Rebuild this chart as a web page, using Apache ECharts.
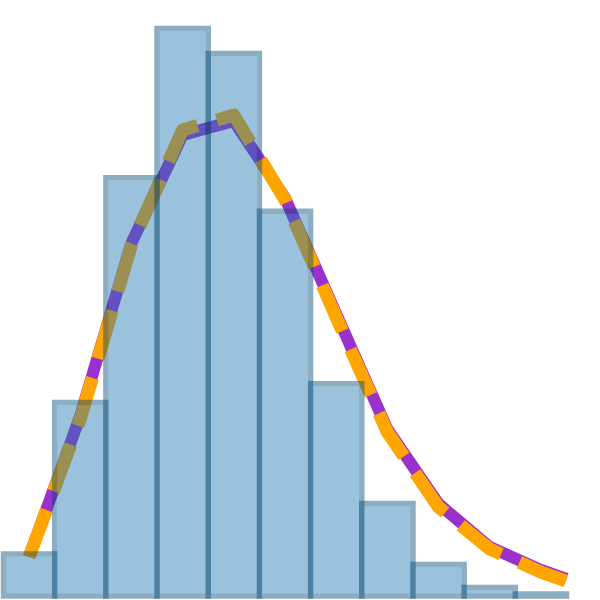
<!DOCTYPE html>
<html>
<head>
<meta charset="utf-8">
<script src="https://cdn.jsdelivr.net/npm/echarts@6/dist/echarts.min.js"></script>
<style>
  html, body { margin: 0; padding: 0; background: #ffffff; }
  #chart { width: 600px; height: 600px; }
</style>
</head>
<body>
<div id="chart"></div>
<script>
// Histogram bin edges (bin index units) and counts per bin
const binEdges = [0, 1, 2, 3, 4, 5, 6, 7, 8, 9, 10, 11];
const counts = [20, 92, 199, 270, 258, 183, 101, 44, 15, 4, 1];

// Curve sample positions and values (same units as counts)
const curveX = [0.5, 1.5, 2.5, 3.5, 4.5, 5.5, 6.5, 7.5, 8.5, 9.5, 10.5, 11];
const purpleY = [18.6, 85.6, 167.9, 219.3, 226.0, 189.3, 134.2, 79.4, 43.8, 23.3, 12.4, 8.1];
const orangeY = [18.6, 84.2, 167.0, 221.7, 228.8, 188.4, 132.7, 78.0, 42.3, 22.4, 11.4, 7.1];

const barData = counts.map((c, i) => [binEdges[i], binEdges[i + 1], c]);
const purpleData = curveX.map((x, i) => [x, purpleY[i]]);
const orangeData = curveX.map((x, i) => [x, orangeY[i]]);

const chart = echarts.init(document.getElementById('chart'), null, { renderer: 'canvas' });

const EDGE_W = 5.5;

chart.setOption({
  backgroundColor: '#ffffff',
  animation: false,
  grid: { left: 3.5, right: 33.5, top: 0, bottom: 4, containLabel: false },
  xAxis: { type: 'value', min: 0, max: 11, show: false },
  yAxis: { type: 'value', min: 0, max: 283.5, show: false },
  series: [
    {
      type: 'line',
      data: purpleData,
      z: 2,
      clip: false,
      silent: true,
      symbol: 'none',
      showSymbol: false,
      lineStyle: { color: '#9932CC', width: 12, cap: 'butt', join: 'round' }
    },
    {
      type: 'line',
      data: orangeData,
      z: 3,
      clip: false,
      silent: true,
      symbol: 'none',
      showSymbol: false,
      lineStyle: { color: '#FFA500', width: 13, type: [50, 20], dashOffset: 0, cap: 'butt', join: 'round' }
    },
    {
      type: 'custom',
      data: barData,
      z: 4,
      clip: false,
      silent: true,
      encode: { x: [0, 1], y: 2 },
      renderItem: function (params, api) {
        const x0 = api.value(0), x1 = api.value(1), c = api.value(2);
        const tl = api.coord([x0, c]);
        const br = api.coord([x1, 0]);
        const h = EDGE_W / 2;
        const w = br[0] - tl[0];
        const hh = br[1] - tl[1];
        return {
          type: 'group',
          children: [
            {
              type: 'rect',
              shape: { x: tl[0] + h, y: tl[1] + h, width: Math.max(0, w - EDGE_W), height: Math.max(0, hh - EDGE_W) },
              style: { fill: 'rgba(31,119,180,0.45)' }
            },
            {
              type: 'rect',
              shape: { x: tl[0], y: tl[1], width: w, height: hh },
              style: { fill: 'none', stroke: 'rgba(0,75,122,0.45)', lineWidth: EDGE_W }
            }
          ]
        };
      }
    }
  ]
});
</script>
</body>
</html>
